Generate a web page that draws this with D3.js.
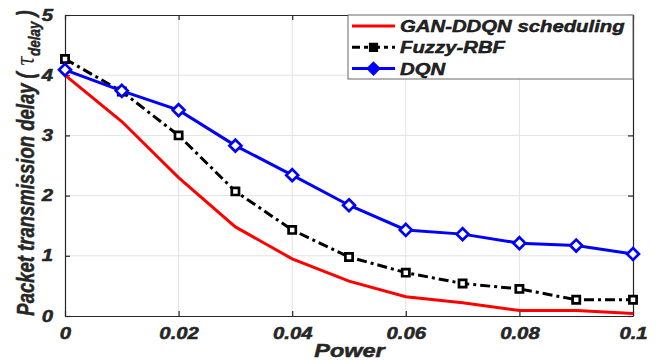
<!DOCTYPE html>
<html lang="en">
<head>
<meta charset="utf-8">
<title>Packet transmission delay vs Power</title>
<script src="https://d3js.org/d3.v7.min.js"></script>
<style>
    body { margin: 0; background: #fff; }
    text { font-family: "Liberation Sans", Arial, sans-serif; font-weight: bold; font-style: italic; fill: #262626; }
</style>
</head>
<body>
<div id="chart"></div>
<script>
    // values
    const power = [0, 0.01, 0.02, 0.03, 0.04, 0.05, 0.06, 0.07, 0.08, 0.09, 0.1];
    const ganDdqn = [4.0, 3.23, 2.3, 1.48, 0.95, 0.58, 0.32, 0.22, 0.09, 0.09, 0.04];
    const fuzzyRbf = [4.27, 3.73, 3.0, 2.07, 1.43, 0.98, 0.72, 0.54, 0.45, 0.27, 0.27];
    const dqn = [4.09, 3.74, 3.42, 2.83, 2.34, 1.84, 1.43, 1.36, 1.21, 1.17, 1.03];
    const xTicks = [0, 0.02, 0.04, 0.06, 0.08, 0.1];
    const yTicks = [0, 1, 2, 3, 4, 5];
    const seriesNames = ["GAN-DDQN scheduling", "Fuzzy-RBF", "DQN"];

    const W = 667, H = 360;
    const margin = {top: 15, right: 34, bottom: 44, left: 65};
    const iw = W - margin.left - margin.right;
    const ih = H - margin.top - margin.bottom;
    const STRETCH = 1.27; // the original picture is wider than its fonts

    const svg = d3.select("#chart").append("svg")
        .attr("width", W).attr("height", H);
    const g = svg.append("g").attr("transform", `translate(${margin.left},${margin.top})`);

    const x = d3.scaleLinear().domain([0, 0.1]).range([0, iw]);
    const y = d3.scaleLinear().domain([0, 5]).range([ih, 0]);

    function stretch(sel) {
        sel.each(function() {
            const len = this.getComputedTextLength();
            d3.select(this).attr("textLength", len * STRETCH).attr("lengthAdjust", "spacingAndGlyphs");
        });
    }

    // grid
    g.append("g").selectAll("line").data(xTicks.slice(1, -1)).join("line")
        .attr("x1", d => x(d)).attr("x2", d => x(d)).attr("y1", 0).attr("y2", ih)
        .attr("stroke", "#e3e3e3").attr("stroke-width", 1);
    g.append("g").selectAll("line").data(yTicks.slice(1, -1)).join("line")
        .attr("y1", d => y(d)).attr("y2", d => y(d)).attr("x1", 0).attr("x2", iw)
        .attr("stroke", "#e3e3e3").attr("stroke-width", 1);

    // axes (ticks inward, box on)
    const fmt = d3.format("~g");
    const xAxis = g.append("g").attr("transform", `translate(0,${ih})`)
        .call(d3.axisBottom(x).tickValues(xTicks).tickFormat(fmt)
            .tickSizeInner(-5).tickSizeOuter(0).tickPadding(12));
    const yAxis = g.append("g")
        .call(d3.axisLeft(y).tickValues(yTicks).tickFormat(fmt).tickSizeInner(-5).tickSizeOuter(0).tickPadding(12));
    g.append("g")
        .call(d3.axisTop(x).tickValues(xTicks).tickSizeInner(-5).tickSizeOuter(0).tickFormat(""));
    g.append("g").attr("transform", `translate(${iw},0)`)
        .call(d3.axisRight(y).tickValues(yTicks).tickSizeInner(-5).tickSizeOuter(0).tickFormat(""));
    g.selectAll(".domain, .tick line").attr("stroke", "#262626").attr("stroke-width", 1.2);
    g.selectAll(".tick text").attr("font-size", 16).attr("fill", "#262626")
        .attr("stroke", "#262626").attr("stroke-width", 0.5)
        .style("font-family", "'Liberation Sans', Arial, sans-serif");
    xAxis.selectAll(".tick text").attr("dy", "0.71em");
    stretch(g.selectAll(".tick text"));

    // series
    const line = d3.line().x((d, i) => x(power[i])).y(d => y(d));
    const series = [
        {name: seriesNames[0], values: ganDdqn, color: "#ff0000", dash: null, marker: null},
        {name: seriesNames[1], values: fuzzyRbf, color: "#000000", dash: "10,4,3,4", marker: "square"},
        {name: seriesNames[2], values: dqn, color: "#0000ff", dash: null, marker: "diamond"}
    ];
    const sym = {square: d3.symbol().type(d3.symbolSquare).size(52),
                 diamond: d3.symbol().type(d3.symbolDiamond2).size(90)};

    series.forEach(s => {
        g.append("path").datum(s.values)
            .attr("d", line).attr("fill", "none")
            .attr("stroke", s.color).attr("stroke-width", 3)
            .attr("stroke-dasharray", s.dash);
        if (s.marker) {
            g.append("g").selectAll("path").data(s.values).join("path")
                .attr("transform", (d, i) => `translate(${x(power[i])},${y(d)})`)
                .attr("d", sym[s.marker])
                .attr("fill", "#fff").attr("stroke", s.color).attr("stroke-width", 2.7);
        }
    });

    // legend
    const lg = svg.append("g").attr("transform", "translate(348,15)");
    lg.append("rect").attr("width", 285).attr("height", 64)
        .attr("fill", "#fff").attr("stroke", "#666").attr("stroke-width", 1);
    series.forEach((s, i) => {
        const cy = 11 + i * 21.3;
        lg.append("line").attr("x1", 4).attr("x2", 47).attr("y1", cy).attr("y2", cy)
            .attr("stroke", s.color).attr("stroke-width", 3)
            .attr("stroke-dasharray", s.dash ? "8,4,4,4" : null);
        if (s.marker) {
            lg.append("path").attr("transform", `translate(25.5,${cy})`)
                .attr("d", sym[s.marker]).attr("fill", s.color)
                .attr("stroke", s.color).attr("stroke-width", 2);
        }
        lg.append("text").attr("x", 52).attr("y", cy + 6)
            .attr("font-size", 16).attr("fill", "#000")
            .attr("stroke", "#000").attr("stroke-width", 0.4).text(s.name);
    });
    stretch(lg.selectAll("text"));

    // axis labels
    const xl = svg.append("text")
        .attr("x", margin.left + iw / 2 + 0.5).attr("y", 357)
        .attr("text-anchor", "middle").attr("font-size", 18.5)
        .attr("stroke", "#262626").attr("stroke-width", 0.5).text("Power");
    stretch(xl);

    const yl = svg.append("text")
        .attr("transform", `translate(33.5,${margin.top + 148}) scale(${STRETCH},1) rotate(-90)`)
        .attr("text-anchor", "middle").attr("font-size", 18.5)
        .attr("stroke", "#262626").attr("stroke-width", 0.4);
    yl.append("tspan").text("Packet transmission delay (");
    yl.append("tspan").style("font-family", "'DejaVu Serif', serif").style("font-weight", "normal")
        .attr("stroke-width", 0).text(" \u03C4");
    yl.append("tspan").attr("font-size", 13.5).attr("dy", 5).text("delay");
    yl.append("tspan").attr("dy", -5).text(" )");
</script>
</body>
</html>
